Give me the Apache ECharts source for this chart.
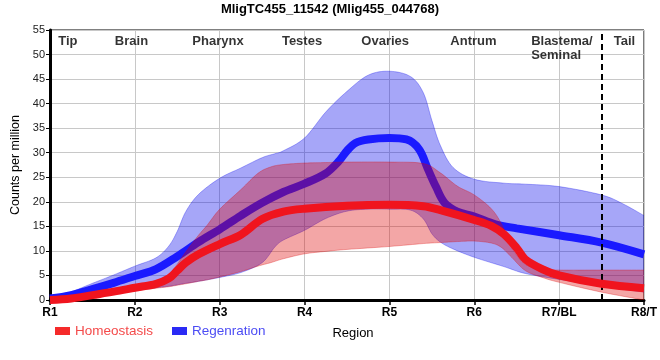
<!DOCTYPE html>
<html>
<head>
<meta charset="utf-8">
<script src="https://cdn.jsdelivr.net/npm/echarts@6/dist/echarts.min.js"></script>
<style>html,body{margin:0;padding:0;background:#fff}#c{width:660px;height:360px}</style>
</head>
<body>
<div id="c"></div>
<script>
var tickLabels = ['R1','R2','R3','R4','R5','R6','R7/BL','R8/T'];
var regionNames = ['Tip','Brain','Pharynx','Testes','Ovaries','Antrum','Blastema/\nSeminal','Tail'];
var regionX = [0.21, 0.96, 1.98, 2.97, 3.95, 4.99, 5.67, 6.77];
var regionY = [52.7, 52.7, 52.7, 52.7, 52.7, 52.7, 51.3, 52.7];

var blueBandX = [0,0.25,0.5,0.75,1,1.25,1.4,1.5,1.6,1.75,2,2.25,2.5,2.65,2.75,3,3.25,3.5,3.75,4,4.25,4.4,4.5,4.6,4.75,5,5.35,5.6,6,6.5,6.75,7];
var blueUpper = [0.7,1.7,3.4,5.1,6.9,8.6,11.0,14.0,18.0,21.5,24.8,26.9,29.0,29.8,30.4,33.0,38.3,42.5,45.8,46.6,45.5,42.2,36.6,31.5,27.0,24.6,23.8,23.6,23.1,21.4,19.6,17.2];
var blueLower = [0,0.3,0.8,1.3,1.9,2.5,2.8,3.1,3.4,3.8,4.6,5.6,7.6,10.8,12.2,14.2,16.6,18.1,18.5,18.5,18.3,16.5,13.5,11.8,10.4,8.7,6.8,5.4,4.2,2.9,2.2,1.6];

var redBandX = [0,0.25,0.5,0.75,1,1.25,1.4,1.5,1.6,1.75,1.85,2,2.25,2.45,2.6,2.75,3,3.25,3.5,4,4.4,4.6,4.8,5,5.2,5.32,5.44,5.6,5.8,6,6.5,7];
var redUpper = [0.1,0.4,1.0,1.9,2.9,3.7,5.0,7.3,9.8,13.2,15.2,18.5,22.5,25.8,27.1,27.6,27.9,28.0,28.1,28.1,27.8,25.9,23.2,21.4,18.6,15.5,10.7,7.3,6.3,6.1,6.1,6.1];
var redLower = [-0.4,0.0,0.5,1.2,1.9,2.4,2.7,3.0,3.3,3.8,4.1,4.7,5.8,6.9,7.6,8.4,9.4,9.9,10.3,10.9,11.5,11.7,11.9,12.0,11.6,10.7,8.7,6.0,4.6,3.6,1.6,0.0];

var blueMeanX = [0,0.25,0.5,0.75,1,1.25,1.5,1.75,2,2.25,2.5,2.75,3,3.25,3.4,3.5,3.6,3.75,4,4.2,4.35,4.45,4.55,4.65,4.8,5,5.25,5.5,6,6.5,7];
var blueMean = [0.3,1.0,2.2,3.5,4.9,6.3,8.9,11.8,14.4,17.2,19.8,22.0,23.7,25.8,28.2,30.4,32.0,32.7,33.0,32.7,30.7,26.8,23.0,19.8,18.0,17.0,15.4,14.6,13.2,11.7,9.3];

var redMeanX = [0,0.25,0.5,0.75,1,1.25,1.4,1.5,1.6,1.75,2,2.25,2.5,2.75,3,3.5,4,4.4,4.6,5,5.2,5.35,5.5,5.6,5.8,6,6.5,7];
var redMean = [0.0,0.3,1.0,1.7,2.5,3.3,4.4,6.0,7.6,9.3,11.4,13.3,16.5,18.0,18.6,19.2,19.4,19.1,18.3,16.3,15.1,13.4,10.6,8.3,6.3,5.0,3.3,2.4];

var dividerX = 6.5;

function pairs(xs, ys){ return xs.map(function(x,i){ return [x, ys[i]]; }); }

// Catmull-Rom subdivision in pixel space (rendering only)
function spline(pts, n){
  var out = [];
  for (var i = 0; i < pts.length - 1; i++){
    var p0 = pts[Math.max(0, i-1)], p1 = pts[i], p2 = pts[i+1], p3 = pts[Math.min(pts.length-1, i+2)];
    for (var k = 0; k < n; k++){
      var t = k / n, t2 = t*t, t3 = t2*t;
      var f = function(a,b,c,d){ return 0.5*((2*b) + (-a+c)*t + (2*a-5*b+4*c-d)*t2 + (-a+3*b-3*c+d)*t3); };
      out.push([f(p0[0],p1[0],p2[0],p3[0]), f(p0[1],p1[1],p2[1],p3[1])]);
    }
  }
  out.push(pts[pts.length-1]);
  return out;
}

function bandSeries(name, xs, up, lo, fill, stroke, z){
  return {
    name: name, type: 'custom', z: z, silent: true,
    data: xs.map(function(x,i){ return [x, lo[i], up[i]]; }),
    encode: {x: 0, y: [1, 2]},
    renderItem: function(params, api){
      if (params.dataIndex !== 0) return null;
      var upPts = xs.map(function(x,i){ return api.coord([x, up[i]]); });
      var loPts = xs.map(function(x,i){ return api.coord([x, lo[i]]); });
      var su = spline(upPts, 8), sl = spline(loPts, 8);
      var poly = su.concat(sl.slice().reverse());
      var cs = params.coordSys;
      return {
        type: 'group',
        clipPath: {type: 'rect', shape: {x: cs.x, y: cs.y, width: cs.width, height: cs.height}},
        children: [
          {type: 'polygon', shape: {points: poly}, style: {fill: fill, stroke: null}},
          {type: 'polyline', shape: {points: su}, style: {fill: null, stroke: stroke, lineWidth: 1}},
          {type: 'polyline', shape: {points: sl}, style: {fill: null, stroke: stroke, lineWidth: 1}}
        ]
      };
    }
  };
}

var FONT = 'Liberation Sans, Arial, sans-serif';
var SM = 0.35;

var chart = echarts.init(document.getElementById('c'), null, {renderer:'canvas'});
chart.setOption({
  animation: false,
  textStyle: {fontFamily: FONT},
  title: {
    text: 'MligTC455_11542 (Mlig455_044768)',
    left: 'center', top: -2,
    textStyle: {fontFamily: FONT, fontSize: 13, fontWeight: 'bold', color: '#000'}
  },
  legend: {
    left: 50, top: 319, icon: 'rect', itemWidth: 15, itemHeight: 8, itemGap: 19,
    textStyle: {fontFamily: FONT, fontSize: 13.5},
    data: [
      {name: 'Homeostasis', itemStyle: {color: '#f52a2a'}, textStyle: {color: '#f44a4a'}},
      {name: 'Regenration', itemStyle: {color: '#2a2af5'}, textStyle: {color: '#4c4cf4'}}
    ]
  },
  grid: {left: 50, right: 10, top: 30, bottom: 60, show: true, borderColor: '#000', borderWidth: 1, backgroundColor: 'transparent'},
  xAxis: {
    type: 'value', min: 0, max: 7, interval: 1,
    name: 'Region', nameLocation: 'middle', nameGap: 27,
    nameTextStyle: {fontFamily: FONT, fontSize: 13, color: '#000', padding: [0,0,0,12]},
    axisLine: {show: true, onZero: false, lineStyle: {color: '#000', width: 3}},
    axisTick: {show: true, length: 5, lineStyle: {color: '#000', width: 1.5}},
    axisLabel: {
      fontFamily: FONT, fontSize: 12, fontWeight: 'bold', color: '#000', margin: 7,
      formatter: function(v){ return tickLabels[Math.round(v)] || ''; }
    },
    splitLine: {show: true, lineStyle: {color: '#c8c8c8', width: 1}}
  },
  yAxis: {
    type: 'value', min: 0, max: 55, interval: 5,
    name: 'Counts per million', nameLocation: 'middle', nameGap: 21,
    nameTextStyle: {fontFamily: FONT, fontSize: 12.5, color: '#000'},
    axisLine: {show: true, onZero: false, lineStyle: {color: '#000', width: 3}},
    axisTick: {show: true, length: 4, lineStyle: {color: '#000', width: 1}},
    axisLabel: {fontFamily: FONT, fontSize: 11, color: '#222', margin: 5},
    splitLine: {show: true, lineStyle: {color: '#c8c8c8', width: 1}}
  },
  series: [
    bandSeries('regBand', blueBandX, blueUpper, blueLower, 'rgba(0,0,235,0.35)', 'rgba(0,0,235,0.3)', 2),
    {
      name: 'Regenration', type: 'line', smooth: SM,
      data: pairs(blueMeanX, blueMean), showSymbol: false, symbol: 'none', z: 3,
      lineStyle: {color: '#1a1aff', width: 8}, itemStyle: {color: '#2a2af5'}
    },
    bandSeries('homBand', redBandX, redUpper, redLower, 'rgba(220,0,0,0.35)', 'rgba(220,0,0,0.3)', 4),
    {
      name: 'Homeostasis', type: 'line', smooth: SM,
      data: pairs(redMeanX, redMean), showSymbol: false, symbol: 'none', z: 5,
      lineStyle: {color: '#f0141e', width: 8}, itemStyle: {color: '#f52a2a'},
      markLine: {
        silent: true, symbol: 'none', label: {show: false},
        lineStyle: {color: '#000', type: [6, 4], width: 2},
        data: [{xAxis: dividerX}]
      }
    },
    {
      name: 'regions', type: 'scatter', symbolSize: 0, z: 6, silent: true,
      data: regionX.map(function(x,i){ return {value: [x, regionY[i]], name: regionNames[i],
        label: i === 6 ? {align: 'left'} : {}}; }),
      label: {
        show: true, position: 'inside', formatter: function(p){ return p.name; },
        fontFamily: FONT, fontSize: 13, fontWeight: 'bold', color: '#000', lineHeight: 14
      }
    }
  ]
});
</script>
</body>
</html>
